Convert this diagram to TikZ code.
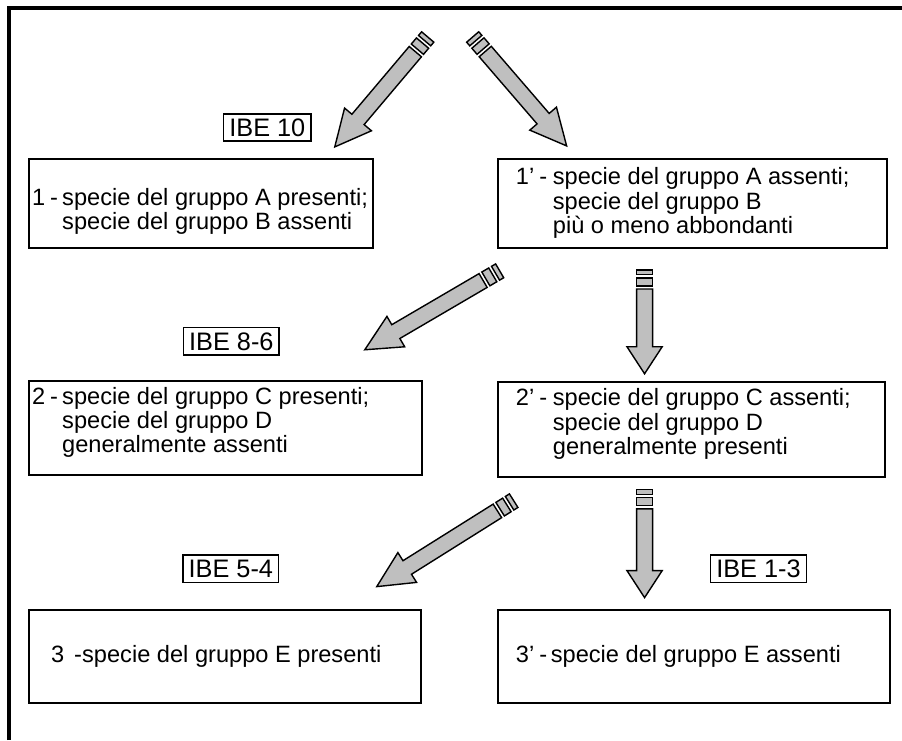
\documentclass[tikz,border=0pt]{standalone}
\usepackage{fontspec}
\setmainfont{Liberation Sans}
\usetikzlibrary{calc}

\tikzset{
  box/.style={draw, line width=1.4pt, inner sep=0pt},
  ibe/.style={draw, line width=1pt, font=\fontsize{18}{18}\selectfont,
    inner xsep=0.14cm, inner ysep=0.12cm, text height=0.44cm, text depth=0pt},
  txt/.style={font=\fontsize{16.8}{17}\selectfont, inner sep=0pt, anchor=west},
  arw/.style={fill=black!25, draw=black, line width=1pt}
}
\newcommand{\shw}{0.2cm}
\newcommand{\hdw}{0.44cm}
% block arrow with two stripes at the tail: tail, tip, head length
\newcommand{\grayarrow}[3]{%
  \coordinate (#1-s1) at ($(#1)!0.12cm!(#2)$);
  \coordinate (#1-s2) at ($(#1)!0.2cm!(#2)$);
  \coordinate (#1-s3) at ($(#1)!0.4cm!(#2)$);
  \coordinate (#1-s4) at ($(#1)!0.48cm!(#2)$);
  \coordinate (#1-hb) at ($(#2)!#3!(#1)$);
  \filldraw[arw] ($(#1)!\shw!90:(#2)$) -- ($(#1)!\shw!-90:(#2)$)
    -- ($(#1-s1)!\shw!-90:(#2)$) -- ($(#1-s1)!\shw!90:(#2)$) -- cycle;
  \filldraw[arw] ($(#1-s2)!\shw!90:(#2)$) -- ($(#1-s2)!\shw!-90:(#2)$)
    -- ($(#1-s3)!\shw!-90:(#2)$) -- ($(#1-s3)!\shw!90:(#2)$) -- cycle;
  \filldraw[arw] ($(#1-s4)!\shw!90:(#2)$) -- ($(#1-hb)!\shw!-90:(#1)$)
    -- ($(#1-hb)!\hdw!-90:(#1)$) -- (#2) -- ($(#1-hb)!\hdw!90:(#1)$)
    -- ($(#1-hb)!\shw!90:(#1)$) -- ($(#1-s4)!\shw!-90:(#2)$) -- cycle;
}

\begin{document}
\begin{tikzpicture}[x=0.025cm,y=-0.025cm]
\fill[white] (0,0) rectangle (902.6,740.5);
\useasboundingbox (0,0) rectangle (902.6,740.5);
\draw[line width=2.2pt] (9,740.5) -- (9,8) -- (902.6,8);

% boxes
\node[box, minimum width=8.6cm, minimum height=2.225cm] (b1) at (201,203.5) {};
\node[box, minimum width=9.75cm, minimum height=2.225cm] (b1p) at (693,203.5) {};
\node[box, minimum width=9.825cm, minimum height=2.35cm] (b2) at (225.5,428) {};
\node[box, minimum width=9.7cm, minimum height=2.375cm] (b2p) at (692,429.5) {};
\node[box, minimum width=9.8cm, minimum height=2.325cm] (b3) at (225,656.5) {};
\node[box, minimum width=9.825cm, minimum height=2.325cm] (b3p) at (694.5,656.5) {};

\node[txt] (t1) at ($(b1.west)+(4,9)$) {\begin{tabular}{@{}l@{}l@{}}
  \makebox[0.75cm][l]{1\hspace{0.2em}-} & specie del gruppo A presenti;\\
  & specie del gruppo B assenti\end{tabular}};
\node[txt] (t1p) at ($(b1p.west)+(19,1)$) {\begin{tabular}{@{}l@{}l@{}}
  \makebox[0.925cm][l]{1'\hspace{0.22em}-} & specie del gruppo A assenti;\\
  & specie del gruppo B\\
  & più o meno abbondanti\end{tabular}};
\node[txt] (t2) at ($(b2.west)+(4,-4)$) {\begin{tabular}{@{}l@{}l@{}}
  \makebox[0.75cm][l]{2\hspace{0.2em}-} & specie del gruppo C presenti;\\
  & specie del gruppo D\\
  & generalmente assenti\end{tabular}};
\node[txt] (t2p) at ($(b2p.west)+(19,-4)$) {\begin{tabular}{@{}l@{}l@{}}
  \makebox[0.925cm][l]{2'\hspace{0.22em}-} & specie del gruppo C assenti;\\
  & specie del gruppo D\\
  & generalmente presenti\end{tabular}};
\node[txt] (t3) at ($(b3.west)+(23,0)$) {\makebox[0.575cm][l]{3}\makebox[0.2cm][l]{-}specie del gruppo E presenti};
\node[txt] (t3p) at ($(b3p.west)+(19,0)$) {\makebox[0.875cm][l]{3'\hspace{0.22em}-}specie del gruppo E assenti};

% IBE labels
\node[ibe] (i10) at (267.5,127.5) {IBE 10};
\node[ibe] (i86) at (231.5,341.5) {IBE 8-6};
\node[ibe] (i54) at (231,569) {IBE 5-4};
\node[ibe] (i13) at (759,569) {IBE 1-3};

% arrows
\coordinate (a1) at (428,37);  \coordinate (a1h) at (335,147);
\coordinate (a2) at (473,37);  \coordinate (a2h) at (567,146);
\coordinate (a3) at (500,271); \coordinate (a3h) at (365,350);
\coordinate (a4) at (645,270); \coordinate (a4h) at (645,374);
\coordinate (a5) at (514,501); \coordinate (a5h) at (377,587);
\coordinate (a6) at (645,490); \coordinate (a6h) at (645,598);
\grayarrow{a1}{a1h}{0.9cm}
\grayarrow{a2}{a2h}{0.9cm}
\grayarrow{a3}{a3h}{0.9cm}
\grayarrow{a4}{a4h}{0.675cm}
\grayarrow{a5}{a5h}{0.9cm}
\grayarrow{a6}{a6h}{0.675cm}
\end{tikzpicture}
\end{document}
